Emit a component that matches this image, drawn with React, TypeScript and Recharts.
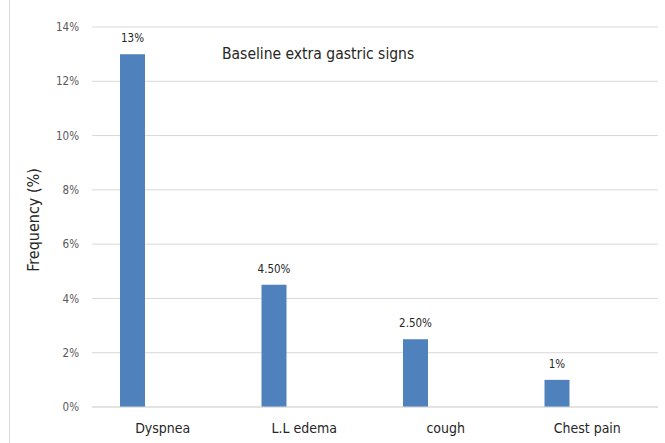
import { BarChart, Bar, XAxis, YAxis, CartesianGrid, LabelList } from "recharts";

const categories = ["Dyspnea", "L.L edema", "cough", "Chest pain"];
const frequency = [13, 4.5, 2.5, 1];
const valueLabels = ["13%", "4.50%", "2.50%", "1%"];
const yTicks = [0, 2, 4, 6, 8, 10, 12, 14];

const FONT = "'Liberation Sans Narrow', 'DejaVu Sans Condensed', sans-serif";

const data = categories.map((name, i) => ({
  name,
  freq: frequency[i],
  label: valueLabels[i],
  empty: null,
}));

export default function App() {
  return (
    <div
      style={{
        position: "absolute",
        left: 0,
        top: 0,
        width: 665,
        height: 443,
        background: "#fff",
        fontFamily: FONT,
      }}
    >
      <div
        style={{
          position: "absolute",
          left: 9,
          top: 0,
          width: 1,
          height: 443,
          background: "#d9d9d9",
        }}
      />
      <div
        style={{
          position: "absolute",
          left: 222,
          top: 45,
          fontSize: 15.5,
          color: "#262626",
          whiteSpace: "nowrap",
        }}
      >
        Baseline extra gastric signs
      </div>
      <BarChart
        width={665}
        height={443}
        data={data}
        margin={{ top: 27, right: 7, bottom: 0, left: 0 }}
        barGap={36}
      >
        <CartesianGrid vertical={false} stroke="#d9d9d9" />
        <XAxis
          dataKey="name"
          height={36}
          tickLine={false}
          axisLine={{ stroke: "#d9d9d9" }}
          tickMargin={10}
          tick={{ fontSize: 14, fill: "#262626", fontFamily: FONT }}
        />
        <YAxis
          width={92}
          domain={[0, 14]}
          ticks={yTicks}
          tickFormatter={(v) => `${v}%`}
          axisLine={false}
          tickLine={false}
          tickMargin={7}
          tick={{ fontSize: 11.5, fill: "#595959", fontFamily: FONT }}
          label={{
            value: "Frequency (%)",
            angle: -90,
            position: "center",
            dx: -13,
            dy: 3,
            style: { fontSize: 16, fill: "#262626", fontFamily: FONT },
          }}
        />
        <Bar dataKey="freq" fill="#4f81bd" barSize={25} isAnimationActive={false}>
          <LabelList
            dataKey="label"
            position="top"
            offset={12}
            style={{ fontSize: 11.5, fill: "#262626", fontFamily: FONT }}
          />
        </Bar>
        <Bar dataKey="empty" fill="#c0504d" barSize={25} isAnimationActive={false} />
      </BarChart>
    </div>
  );
}
